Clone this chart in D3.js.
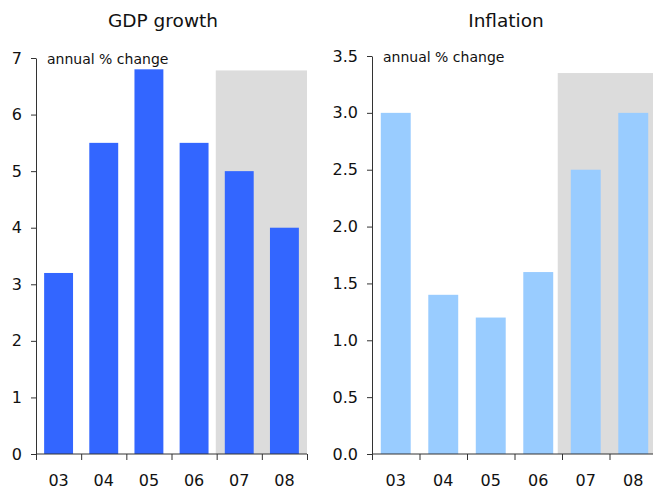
<!DOCTYPE html>
<html>
<head>
<meta charset="utf-8">
<title>GDP growth and Inflation</title>
<style>
  body { margin: 0; background: #fff; }
  svg text { font-family: "DejaVu Sans", Verdana, sans-serif; fill: #111; }
</style>
</head>
<body>
<div id="chart"></div>
<script src="https://d3js.org/d3.v7.min.js"></script>
<script>
// Data
const years = ["03", "04", "05", "06", "07", "08"];
const gdpGrowth = [3.2, 5.5, 6.8, 5.5, 5.0, 4.0];
const inflation = [3.0, 1.4, 1.2, 1.6, 2.5, 3.0];
const gdpTicks = [0, 1, 2, 3, 4, 5, 6, 7];
const inflationTicks = [0, 0.5, 1.0, 1.5, 2.0, 2.5, 3.0, 3.5];
const forecastYears = ["07", "08"];
const gdpShadeTop = 6.78;
const inflationShadeTop = 3.35;

const W = 653, H = 489;
const svg = d3.select("#chart").append("svg")
    .attr("width", W)
    .attr("height", H);

// one panel = one small bar chart
function panel(cfg) {
    const x = d3.scaleBand().domain(years).range([cfg.left, cfg.right]).padding(0);
    const y = d3.scaleLinear().domain([cfg.ticks[0], cfg.ticks[cfg.ticks.length - 1]]).range([454, cfg.top]);
    const g = svg.append("g");

    // forecast shading
    const x0 = x(forecastYears[0]) - cfg.shadeShift * x.bandwidth();
    g.append("rect")
        .attr("x", x0)
        .attr("y", y(cfg.shadeTop))
        .attr("width", x(forecastYears[forecastYears.length - 1]) + x.bandwidth() - x0)
        .attr("height", y(0) - y(cfg.shadeTop))
        .attr("fill", "#dcdcdc");

    // bars
    const bw = x.bandwidth() * cfg.barFrac;
    g.selectAll("rect.bar")
        .data(years.map((yr, i) => ({ yr, v: cfg.values[i] })))
        .join("rect")
          .attr("class", "bar")
          .attr("x", d => x(d.yr) + (x.bandwidth() - bw) / 2)
          .attr("y", d => y(d.v))
          .attr("width", bw)
          .attr("height", d => y(0) - y(d.v))
          .attr("fill", cfg.color);

    // y axis
    const ay = g.append("g")
        .attr("transform", `translate(${cfg.left},0)`)
        .call(d3.axisLeft(y).tickValues(cfg.ticks).tickFormat(cfg.fmt).tickSize(5).tickPadding(9).tickSizeOuter(0));
    ay.selectAll("text").style("font-size", "16px").attr("fill", "#111");
    ay.selectAll("line, path").attr("stroke", "#333");

    // x axis: ticks on the band edges
    const ax = g.append("g").attr("transform", `translate(0,${y(0)})`);
    ax.append("line")
        .attr("x1", cfg.left).attr("x2", cfg.right)
        .attr("stroke", "#333");
    ax.selectAll("line.tk")
        .data(years.concat(["end"]))
        .join("line")
          .attr("class", "tk")
          .attr("x1", (d, i) => cfg.left + i * x.step() + 0.5)
          .attr("x2", (d, i) => cfg.left + i * x.step() + 0.5)
          .attr("y1", 0).attr("y2", 6)
          .attr("stroke", "#333");
    ax.selectAll("text")
        .data(years)
        .join("text")
          .attr("x", d => x(d) + x.bandwidth() / 2)
          .attr("y", 32)
          .attr("text-anchor", "middle")
          .style("font-size", "16px")
          .text(d => d);

    // title + unit note
    svg.append("text")
        .attr("x", cfg.titleX).attr("y", 27)
        .attr("text-anchor", "middle")
        .style("font-size", "18.5px")
        .text(cfg.title);
    svg.append("text")
        .attr("x", cfg.left + 11).attr("y", cfg.top + 6)
        .style("font-size", "14px")
        .text("annual % change");
}

panel({
    title: "GDP growth", titleX: 163,
    left: 36, right: 307, top: 58,
    values: gdpGrowth, ticks: gdpTicks, fmt: d3.format("d"),
    color: "#3366ff", shadeTop: gdpShadeTop, shadeShift: 0.02, barFrac: 0.64
});
panel({
    title: "Inflation", titleX: 506,
    left: 372, right: 657, top: 56,
    values: inflation, ticks: inflationTicks, fmt: d3.format(".1f"),
    color: "#99ccff", shadeTop: inflationShadeTop, shadeShift: 0.09, barFrac: 0.63
});
</script>
</body>
</html>
